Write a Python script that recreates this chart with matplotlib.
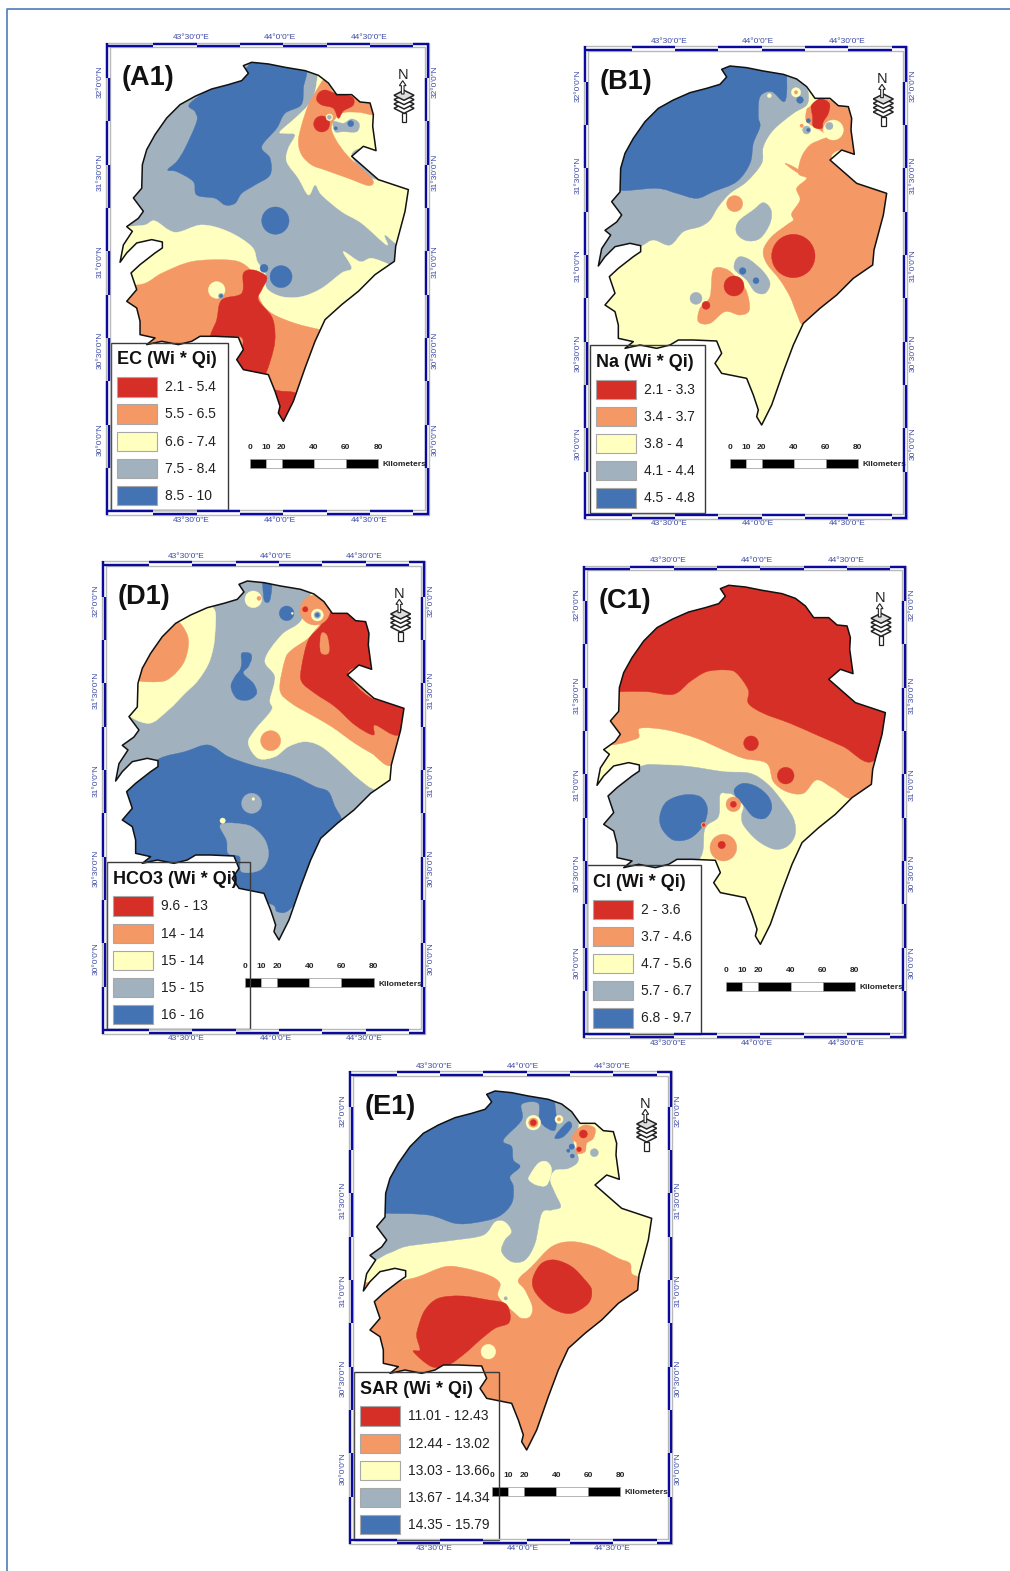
# -*- coding: utf-8 -*-
import matplotlib
matplotlib.use('Agg')
from matplotlib import pyplot as plt
from matplotlib.patches import Polygon, Circle, Rectangle, PathPatch
from matplotlib.path import Path
from matplotlib.lines import Line2D

plt.rcParams['font.family'] = ['Liberation Sans', 'DejaVu Sans']

W, H = 1010, 1571

# class colours, lowest to highest class
r = '#d62f27'
o = '#f49865'
y = '#ffffbf'
g = '#a1b2be'
b = '#4473b3'
class_colors = [r, o, y, g, b]

# graticule
lon_labels = ['43°30\'0"E', '44°0\'0"E', '44°30\'0"E']
lat_labels = ['32°0\'0"N', '31°30\'0"N', '31°0\'0"N', '30°30\'0"N', '30°0\'0"N']
lon_pos = [238, 505, 772]
lat_pos = [92, 362, 632, 896, 1166]

km_ticks = [0, 10, 20, 40, 60, 80]

# governorate boundary, map units
outline = [(395,43),(420,33),(470,38),(520,48),(580,58),(620,72),(650,95),(675,130),(720,130),(745,152),
           (775,155),(785,190),(783,225),(793,298),(755,285),(720,315),(800,385),(890,415),(880,480),(852,585),
           (848,630),(790,670),(740,720),(690,760),(640,805),(610,870),(580,950),(545,1050),(515,1110),(500,1085),
           (505,1065),(490,1020),(470,970),(395,955),(375,925),(395,895),(380,858),(310,855),(265,855),(240,870),
           (200,880),(150,870),(105,880),(130,860),(85,850),(85,810),(75,770),(45,750),(75,715),(58,665),
           (85,640),(130,605),(152,590),(152,572),(120,565),(75,575),(45,605),(25,633),(35,581),(62,540),
           (45,526),(80,501),(95,480),(65,440),(90,411),(92,340),(105,295),(130,250),(165,200),(205,160),
           (250,135),(300,113),(350,100),(390,88),(410,66)]

# zones per panel, painted in order: polygon = list of points, disc = (x, y, radius)
a1_zones = [
    (g, outline),
    (b, [(235,156),(330,90),(390,60),(412,40),(420,10),(575,30),(575,111),(568,161),(520,186),(495,231),
         (450,286),(475,321),(475,371),(430,401),(390,426),(370,456),(340,461),(310,441),(255,431),(245,391),
         (195,361),(168,356),(195,331),(220,291),(255,211),(250,181)]),
    (y, [(622,60),(640,85),(670,121),(730,120),(800,140),(810,211),(810,320),(750,291),(720,316),(780,381),(910,416),
         (875,575),(820,551),(825,581),(750,516),(690,481),(630,431),(610,401),(590,431),(560,381),(525,331),
         (530,291),(550,251),(520,246),(505,241),(550,201),(590,161),(610,121)]),
    (o, [(640,85),(670,126),(725,125),(790,145),(800,191),(740,183),(690,186),(660,221),(670,261),(710,316),
         (780,381),(772,403),(710,381),(640,356),(600,341),(570,311),(560,271),(570,221),(590,161),(615,116)]),
    (r, [(620,126),(640,116),(670,126),(720,136),(725,161),(695,179),(680,201),(665,171),(630,161),(615,146)]),
    (r, (630,218,24)),
    (y, (653,198,10)),
    (g, [(665,211),(695,216),(720,203),(742,216),(735,241),(695,241),(670,241)]),
    (g, (653,198,6)),
    (b, (717,217,9)),
    (b, (672,231,5)),
    (b, (491,508,41)),
    (y, [(0,530),(45,526),(100,521),(130,509),(190,543),(270,521),(350,541),(420,586),(437,631),(460,666),(465,711),
         (510,736),(570,736),(630,711),(690,665),(720,650),(695,601),(745,631),(780,621),(835,641),(860,660),
         (700,900),(515,1130),(300,1000),(0,900)]),
    (o, [(0,730),(100,696),(150,666),(240,631),(350,626),(400,641),(430,680),(445,746),(480,786),(550,816),(630,836),
         (700,850),(620,1010),(515,1130),(350,1000),(0,900)]),
    (y, (315,716,25)),
    (g, (328,734,8)),
    (b, (328,734,5)),
    (r, [(395,666),(425,656),(460,671),(465,686),(450,716),(440,746),(480,796),(490,846),(485,896),(460,971),(440,974),
         (380,960),(365,926),(390,891),(385,856),(300,861),(315,806),(330,746),(390,726)]),
    (r, [(470,1019),(505,1019),(560,1036),(515,1135),(470,1076)]),
    (b, (508,676,33)),
    (b, (457,651,12)),
]

b1_zones = [
    (y, outline),
    (g, [(590,40),(640,85),(655,115),(650,150),(610,175),(550,225),(520,275),(515,325),(470,380),(420,415),(385,455),
         (360,495),(330,515),(280,530),(240,570),(190,555),(150,575),(50,625),(0,650),(0,400),(30,300),(80,150),
         (400,0),(590,0)]),
    (b, [(590,40),(590,115),(580,140),(545,110),(510,125),(505,185),(510,215),(490,265),(480,325),(440,380),(370,410),
         (320,430),(260,415),(200,400),(60,400),(30,300),(90,200),(170,100),(300,60),(400,15),(590,15)]),
    (y, (538,122,6)),
    (y, (618,112,14)),
    (o, (618,112,5)),
    (b, (630,135,10)),
    (o, [(660,155),(690,130),(720,135),(748,150),(790,140),(810,215),(810,330),(760,285),(725,310),(800,370),(910,415),
         (870,600),(860,670),(790,700),(740,750),(690,790),(640,810),(620,775),(600,725),(570,675),(530,625),(520,585),
         (545,545),(590,510),(610,495),(605,475),(630,435),(620,400),(650,370),(625,355),(635,305),(660,270),(690,255),
         (710,245),(690,225),(650,200),(650,165)]),
    (o, [(585,325),(610,335),(650,360),(640,362),(610,345)]),
    (r, (610,603,65)),
    (y, (730,225,30)),
    (g, (718,213,11)),
    (r, [(665,150),(690,132),(718,145),(715,175),(700,200),(695,220),(670,215),(668,185),(665,170)]),
    (g, (650,225,12)),
    (b, (655,197,6)),
    (b, (655,225,5)),
    (o, (635,212,5)),
    (o, (434,446,24)),
    (g, [(520,443),(543,465),(540,505),(510,550),(470,557),(440,535),(445,500),(490,465)]),
    (g, [(450,605),(480,615),(520,650),(540,685),(525,715),(495,710),(470,675),(435,645),(435,620)]),
    (b, (458,648,10)),
    (b, (498,677,9)),
    (o, [(370,645),(410,643),(445,675),(470,710),(478,765),(450,780),(405,770),(360,805),(325,800),(330,760),(360,725)]),
    (r, (432,693,30)),
    (r, (348,751,12)),
    (g, (318,730,18)),
]

d1_zones = [
    (g, outline),
    (b, [(0,700),(43,655),(103,610),(158,565),(233,545),(303,525),(363,560),(433,585),(493,600),(563,620),(623,650),
         (663,665),(683,710),(703,750),(683,775),(660,810),(600,950),(545,1020),(510,1025),(480,1000),(300,1000),(0,900)]),
    (g, (433,700,30)),
    (y, (438,687,4)),
    (g, [(353,760),(383,760),(433,770),(473,810),(483,860),(458,900),(403,905),(398,860),(363,850),(358,810),(338,770)]),
    (y, (346,752,8)),
    (y, [(203,130),(313,110),(323,190),(308,270),(273,330),(233,370),(183,420),(123,460),(50,420),(50,330),(110,200)]),
    (o, [(208,155),(238,190),(243,230),(228,280),(193,320),(158,335),(85,325),(123,250),(163,190)]),
    (b, [(403,250),(428,250),(433,265),(423,290),(408,310),(438,340),(448,370),(423,390),(388,385),(371,350),(383,320),
         (398,300),(403,280)]),
    (b, (538,130,22)),
    (y, (555,130,3)),
    (b, [(468,30),(493,30),(488,90),(473,95),(468,70)]),
    (y, (438,88,25)),
    (o, (455,85,6)),
    (y, [(568,50),(613,50),(583,150),(523,195),(473,270),(503,320),(488,390),(493,420),(443,480),(423,520),(453,565),
         (503,560),(543,530),(593,515),(643,530),(703,580),(753,625),(808,660),(900,660),(900,400),(700,100)]),
    (o, [(633,170),(603,205),(553,240),(533,270),(518,360),(553,400),(613,435),(673,470),(743,520),(793,550),(853,585),
         (900,480),(700,100)]),
    (r, [(663,130),(723,120),(738,140),(800,140),(810,210),(783,305),(753,290),(723,315),(793,385),(910,415),(873,495),
         (803,465),(798,495),(743,465),(683,410),(623,370),(583,335),(583,290),(603,210),(638,170)]),
    (o, (623,120,45)),
    (r, (594,118,8)),
    (y, (630,135,18)),
    (g, (630,135,10)),
    (b, (630,135,6)),
    (o, [(643,190),(658,195),(665,225),(663,250),(643,250),(638,225)]),
    (o, (490,512,30)),
]

c1_zones = [
    (y, outline),
    (o, [(30,497),(143,494),(154,462),(234,467),(324,492),(404,527),(464,552),(534,567),(554,622),(594,652),(644,657),
         (684,617),(734,642),(794,672),(860,600),(910,400),(400,200),(30,300)]),
    (r, [(50,352),(94,352),(174,352),(254,360),(304,322),(354,292),(414,287),(444,297),(479,347),(479,387),(524,417),(604,447),
         (684,482),(764,517),(854,560),(930,412),(930,50),(380,-20),(40,100)]),
    (r, (487,507,22)),
    (r, (591,604,25)),
    (g, [(154,577),(224,572),(304,577),(404,592),(484,597),(534,627),(574,672),(614,732),(619,782),(594,817),(554,824),
         (504,797),(464,752),(459,722),(464,692),(434,662),(414,657),(394,662),(389,727),(349,762),(329,857),(200,902),
         (0,902),(0,702),(54,642)]),
    (b, [(234,682),(284,662),(334,667),(356,702),(344,752),(304,792),(254,797),(219,762),(214,722)]),
    (b, [(439,642),(464,627),(504,637),(539,667),(549,702),(529,732),(494,727),(464,692),(439,662)]),
    (o, (434,690,22)),
    (r, (434,690,9)),
    (o, (345,752,8)),
    (r, (345,752,4)),
    (o, (404,820,40)),
    (r, (399,812,11)),
]

e1_zones = [
    (y, outline),
    (g, [(500,30),(590,45),(650,90),(670,135),(655,180),(670,240),(640,265),(600,270),(585,300),(600,340),(617,380),
         (590,390),(560,400),(540,490),(510,540),(470,545),(440,515),(450,480),(470,455),(450,425),(420,425),(385,465),
         (300,480),(220,490),(150,500),(100,520),(30,540),(10,400),(60,200)]),
    (y, [(525,285),(550,250),(575,245),(590,270),(575,315),(545,315),(522,300)]),
    (b, [(60,400),(95,400),(220,405),(300,430),(360,428),(430,410),(470,370),(475,320),(465,290),(495,260),(475,240),(470,200),
         (445,180),(500,120),(500,73),(550,70),(555,125),(600,150),(600,75),(580,30),(400,10),(60,180),(40,300)]),
    (b, [(610,155),(640,125),(650,140),(625,170),(600,175)]),
    (y, (535,128,22)),
    (o, (535,128,14)),
    (r, (535,128,9)),
    (y, (612,118,12)),
    (o, (612,118,5)),
    (o, [(665,150),(690,135),(720,145),(715,175),(695,190),(690,215),(665,220),(665,190),(650,175)]),
    (r, (685,162,12)),
    (r, (672,208,7)),
    (b, (650,200,8)),
    (b, (652,228,6)),
    (b, (640,212,5)),
    (g, (718,218,12)),
    (o, [(130,605),(190,590),(270,560),(330,565),(400,585),(435,610),(430,650),(480,700),(500,715),(525,710),(532,680),
         (510,630),(490,600),(530,560),(590,500),(650,485),(720,500),(790,535),(825,550),(830,580),(855,590),(910,590),
         (910,700),(700,900),(530,1130),(300,950),(0,950),(0,640)]),
    (r, [(190,740),(210,690),(250,655),(320,648),(400,660),(450,670),(465,700),(460,730),(420,745),(375,780),(330,820),
         (280,855),(230,860),(175,815),(195,810),(185,770)]),
    (r, [(535,590),(560,550),(600,540),(650,560),(690,600),(710,630),(700,670),(650,700),(600,690),(560,660),(535,625)]),
    (y, (400,815,22)),
    (y, (452,655,12)),
    (g, (452,655,5)),
]

a1_title = 'EC (Wi * Qi)'
b1_title = 'Na (Wi * Qi)'
d1_title = 'HCO3 (Wi * Qi)'
c1_title = 'Cl (Wi * Qi)'
e1_title = 'SAR (Wi * Qi)'

a1_classes = ['2.1 - 5.4', '5.5 - 6.5', '6.6 - 7.4', '7.5 - 8.4', '8.5 - 10']
b1_classes = ['2.1 - 3.3', '3.4 - 3.7', '3.8 - 4', '4.1 - 4.4', '4.5 - 4.8']
d1_classes = ['9.6 - 13', '14 - 14', '15 - 14', '15 - 15', '16 - 16']
c1_classes = ['2 - 3.6', '3.7 - 4.6', '4.7 - 5.6', '5.7 - 6.7', '6.8 - 9.7']
e1_classes = ['11.01 - 12.43', '12.44 - 13.02', '13.03 - 13.66', '13.67 - 14.34', '14.35 - 15.79']

NAVY = '#0a0a9c'
TICK = '#3d4ba6'
Z = 3.0   # map units per pixel
FW, FH = 321 * Z, 469 * Z


def spline_path(pts):
    # closed bezier through the read points, matplotlib draws the curve
    n = len(pts)
    verts = [pts[0]]
    codes = [Path.MOVETO]
    for i in range(n):
        p0, p1, p2, p3 = pts[i-1], pts[i], pts[(i+1) % n], pts[(i+2) % n]
        verts.append((p1[0] + (p2[0]-p0[0])/6, p1[1] + (p2[1]-p0[1])/6))
        verts.append((p2[0] - (p3[0]-p1[0])/6, p2[1] - (p3[1]-p1[1])/6))
        verts.append(p2)
        codes += [Path.CURVE4, Path.CURVE4, Path.CURVE4]
    return Path(verts, codes)


def add_neatline(ax):
    xo0, xo1, yo0, yo1 = -17, 952, -26, 1391
    xi0, xi1, yi0, yi1 = -5, 940, -12, 1377
    gray = '#b8b8b8'
    ax.plot([xo0, xo1, xo1, xo0, xo0], [yo0, yo0, yo1, yo1, yo0], color=gray, lw=1, clip_on=False, zorder=8)
    ax.plot([xi0, xi1, xi1, xi0, xi0], [yi0, yi0, yi1, yi1, yi0], color=gray, lw=1, clip_on=False, zorder=8)
    lw = 1.7
    xs = [xo0] + [125 + 130*i for i in range(7)] + [xo1]
    for i, (a, c) in enumerate(zip(xs[:-1], xs[1:])):
        if i % 2 == 0:
            ya, yb = yi0-3, yi1+3
        else:
            ya, yb = yo0+3, yo1-3
        ax.plot([a, c], [ya, ya], color=NAVY, lw=lw, clip_on=False, zorder=9, solid_capstyle='butt')
        ax.plot([a, c], [yb, yb], color=NAVY, lw=lw, clip_on=False, zorder=9, solid_capstyle='butt')
    ys = [yo0] + [80 + 130*i for i in range(11)]
    ys[-1] = yo1
    for i, (a, c) in enumerate(zip(ys[:-1], ys[1:])):
        if i % 2 == 0:
            xa, xb = xo0+3, xo1-3
        else:
            xa, xb = xi0-3, xi1+3
        ax.plot([xa, xa], [a, c], color=NAVY, lw=lw, clip_on=False, zorder=9, solid_capstyle='butt')
        ax.plot([xb, xb], [a, c], color=NAVY, lw=lw, clip_on=False, zorder=9, solid_capstyle='butt')


def add_north(ax, dx):
    cx = 873 + dx
    ax.text(cx, 72, 'N', ha='center', va='center', fontsize=10.5, color='#222222', zorder=4)
    for i in range(4)[::-1]:
        cy = 132 + i*13
        col = '#dddddd' if i == 0 else '#ffffff'
        ax.add_patch(Polygon([(cx+4-30,cy),(cx+4,cy-15),(cx+4+30,cy),(cx+4,cy+15)], closed=True,
                             fc=col, ec='#222222', lw=1.1, zorder=5))
    ax.add_patch(Polygon([(cx,88),(cx+10,103),(cx+4,103),(cx+4,128),(cx-4,128),(cx-4,103),(cx-10,103)], closed=True,
                         fc='white', ec='#222222', lw=0.8, zorder=6))
    ax.add_patch(Rectangle((cx-3, 185), 14, 27, fc='white', ec='#222222', lw=0.9, zorder=4))


def add_scalebar(ax, x0, y0):
    u = 4.81
    fills = ['black', 'white', 'black', 'white', 'black']
    for i in range(5):
        ax.add_patch(Rectangle((x0 + km_ticks[i]*u, y0), (km_ticks[i+1]-km_ticks[i])*u, 26,
                               fc=fills[i], ec='#999999', lw=0.5, zorder=3))
    for km in km_ticks:
        ax.text(x0 + km*u, y0-34, str(km), ha='center', va='center', fontsize=6, fontweight='bold', color='#222222', zorder=4)
    ax.text(x0 + 399, y0+18, 'Kilometers', ha='left', va='center', fontsize=6, fontweight='bold',
            color='#222222', clip_on=False, zorder=7)


def add_legend(ax, x0, y0, x1, y1, title, classes):
    ax.add_patch(Rectangle((x0, y0), x1-x0, y1-y0, fc='none', ec='#3a3a3a', lw=1, zorder=6, clip_on=False))
    ax.text(x0+18, y0+52, title, ha='left', va='center', fontsize=13, fontweight='bold', color='#111111', zorder=8)
    for i, lab in enumerate(classes):
        top = y0 + 104 + i*81.5
        ax.add_patch(Rectangle((x0+18, top), 120, 58, fc=class_colors[i], ec='#a8a8a8', lw=0.8, zorder=7))
        ax.text(x0+162, top+30, lab, ha='left', va='center', fontsize=10, color='#222222', zorder=8)


def draw_panel(ox, oy, tag, zones, title, classes, legend_box, bar_xy, north_dx):
    ax = fig.add_axes([(ox-4.5)/W, 1-(oy-7+469)/H, 321/W, 469/H])
    ax.set_xlim(-13.5, -13.5+FW)
    ax.set_ylim(-21+FH, -21)
    ax.patch.set_visible(False)
    for s in ax.spines.values():
        s.set_visible(False)

    ax.set_xticks(lon_pos)
    ax.set_xticklabels(lon_labels)
    ax.set_yticks(lat_pos)
    ax.set_yticklabels(lat_labels)
    ax.tick_params(axis='both', length=0, labelsize=6, labelcolor=TICK, pad=2.5,
                   top=True, bottom=True, left=True, right=True,
                   labeltop=True, labelbottom=True, labelleft=True, labelright=True)
    plt.setp(ax.get_yticklabels(), rotation=90, va='center')
    plt.setp(ax.yaxis.get_ticklabels(which='major'), rotation=90, va='center')
    for t in ax.yaxis.get_major_ticks():
        t.label2.set_rotation(90)
        t.label2.set_va('center')

    clip = Polygon(outline, closed=True, transform=ax.transData, fc='none', ec='none')
    ax.add_patch(clip)
    for col, geom in zones:
        if geom is outline:
            p = Polygon(geom, closed=True, fc=col, ec=col, lw=0.3, zorder=2)
        elif isinstance(geom, list):
            p = PathPatch(spline_path(geom), fc=col, ec=col, lw=0.3, zorder=2)
        else:
            p = Circle(geom[:2], geom[2], fc=col, ec=col, lw=0.3, zorder=2)
        ax.add_patch(p)
        p.set_clip_path(clip)
    ax.add_patch(Polygon(outline, closed=True, fc='none', ec='#111111', lw=1.1, zorder=3, joinstyle='round'))

    ax.text(30, 80, tag, ha='left', va='center', fontsize=19.5, fontweight='bold', color='#111111', zorder=7)
    add_north(ax, north_dx)
    add_scalebar(ax, bar_xy[0], bar_xy[1])
    add_legend(ax, legend_box[0], legend_box[1], legend_box[2], legend_box[3], title, classes)
    add_neatline(ax)
    return ax


fig = plt.figure(figsize=(W/100, H/100), dpi=100, facecolor='white')

# page border
fig.add_artist(Line2D([6.5/W, 6.5/W, 1], [0, 1-9/H, 1-9/H], color='#5b86c0', lw=1.3))

draw_panel(111.7, 51.3, '(A1)', a1_zones, a1_title, a1_classes, (-3, 874, 348, 1376), (414, 1223), 0)
draw_panel(590, 55, '(B1)', b1_zones, b1_title, b1_classes, (0, 870, 345, 1374), (419, 1212), 3)
draw_panel(107.3, 570, '(D1)', d1_zones, d1_title, d1_classes, (0, 875, 428, 1377), (414, 1224), 3)
draw_panel(588.7, 574.3, '(C1)', c1_zones, c1_title, c1_classes, (-5, 872, 336, 1379), (413, 1223), 0)
draw_panel(355, 1080, '(E1)', e1_zones, e1_title, e1_classes, (-4, 875, 432, 1380), (411, 1221), -2)

fig.savefig('out.png', dpi=100)
